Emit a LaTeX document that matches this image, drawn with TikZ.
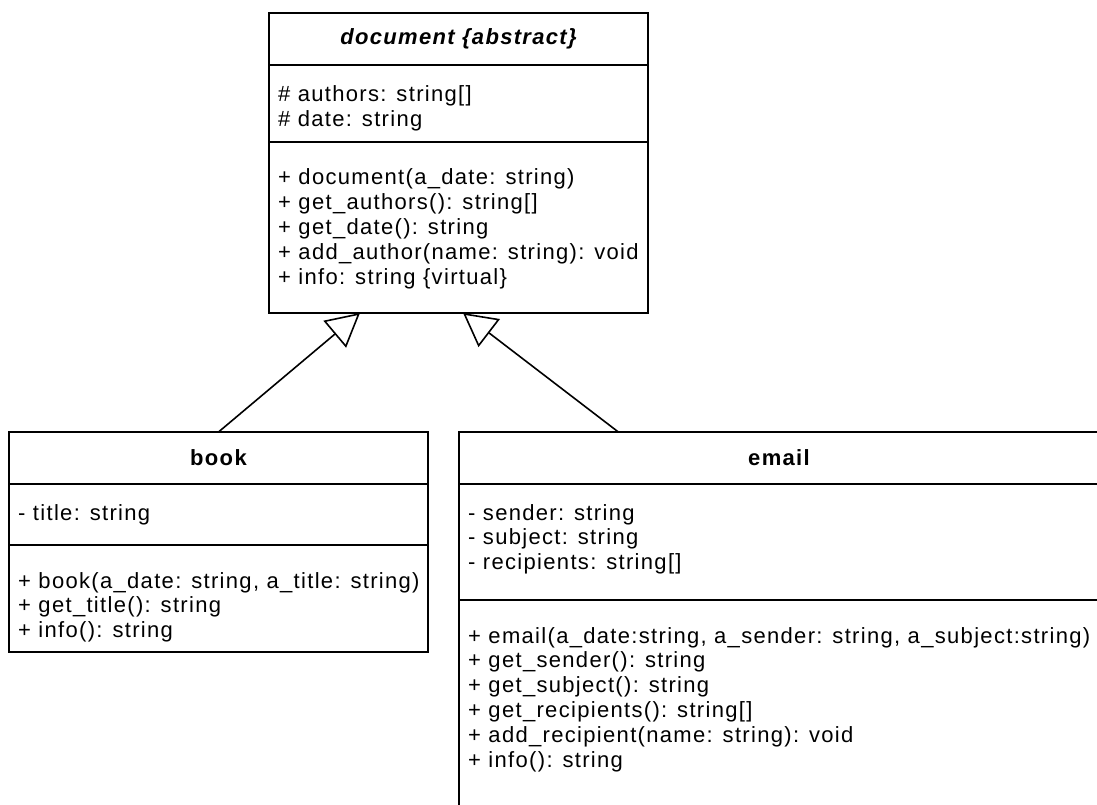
\documentclass[tikz,border=0pt]{standalone}
\usepackage{fontspec}
\newfontfamily\umlfont{Liberation Sans}[LetterSpace=6]
\usetikzlibrary{arrows.meta,calc}

\begin{document}
\begin{tikzpicture}[x=1pt,y=-1pt,
  umlclass/.style={draw,rectangle,line width=1.6pt,inner sep=0pt,outer sep=0pt,anchor=north west},
  member/.style={anchor=base west,inner sep=0pt,font=\umlfont\fontsize{22}{25}\selectfont},
  classname/.style={inner sep=0pt,font=\umlfont\fontsize{22}{25}\selectfont\bfseries},
  compartment/.style={line width=1.6pt},
  inherits/.style={line width=1.6pt,-{Triangle[open,length=33pt,width=35pt]}}]
\useasboundingbox (0,0) rectangle (1097,805);
\clip (0,0) rectangle (1097,805);

% classes
\node[umlclass,minimum width=379pt,minimum height=300pt] (document) at (269,13) {};
\node[umlclass,minimum width=419pt,minimum height=220pt] (book) at (9,432) {};
\node[umlclass,minimum width=640pt,minimum height=420pt] (email) at (459,432) {};

% compartments
\draw[compartment] ($(document.north west)+(0,52)$) -- ($(document.north east)+(0,52)$);
\draw[compartment] ($(document.north west)+(0,129)$) -- ($(document.north east)+(0,129)$);
\draw[compartment] ($(book.north west)+(0,52)$) -- ($(book.north east)+(0,52)$);
\draw[compartment] ($(book.north west)+(0,113)$) -- ($(book.north east)+(0,113)$);
\draw[compartment] ($(email.north west)+(0,52)$) -- ($(email.north east)+(0,52)$);
\draw[compartment] ($(email.north west)+(0,168)$) -- ($(email.north east)+(0,168)$);

% names
\node[classname,font=\umlfont\fontsize{22}{25}\selectfont\bfseries\itshape] (documentname) at ($(document.north)+(0,26)$) {document \{abstract\}};
\node[classname] (bookname) at ($(book.north)+(0,26)$) {book};
\node[classname] (emailname) at ($(email.north)+(0,26)$) {email};

% document members
\foreach \txt [count=\i] in {{\# authors: string[]},{\# date: string}}
  {\node[member] (docattr\i) at (278,{102+24.8*(\i-1)}) {\txt};}
\foreach \txt [count=\i] in {{+ document(a\_date: string)},{+ get\_authors(): string[]},
    {+ get\_date(): string},{+ add\_author(name: string): void},{+ info: string \{virtual\}}}
  {\node[member] (docop\i) at (278,{185+24.8*(\i-1)}) {\txt};}

% book members
\node[member] (bookattr1) at (18,520) {- title: string};
\foreach \txt [count=\i] in {{+ book(a\_date: string, a\_title: string)},{+ get\_title(): string},
    {+ info(): string}}
  {\node[member] (bookop\i) at (18,{588+24.8*(\i-1)}) {\txt};}

% email members
\foreach \txt [count=\i] in {{- sender: string},{- subject: string},{- recipients: string[]}}
  {\node[member] (emailattr\i) at (468,{520+24.8*(\i-1)}) {\txt};}
\foreach \txt [count=\i] in {{+ email(a\_date:string, a\_sender: string, a\_subject:string)},
    {+ get\_sender(): string},{+ get\_subject(): string},{+ get\_recipients(): string[]},
    {+ add\_recipient(name: string): void},{+ info(): string}}
  {\node[member] (emailop\i) at (468,{643+24.8*(\i-1)}) {\txt};}

% inheritance
\draw[inherits] (book.north) -- ($(document.south west)!0.24!(document.south east)$);
\draw[inherits] ($(email.north west)!0.249!(email.north east)$) -- ($(document.south west)!0.512!(document.south east)$);
\end{tikzpicture}
\end{document}
